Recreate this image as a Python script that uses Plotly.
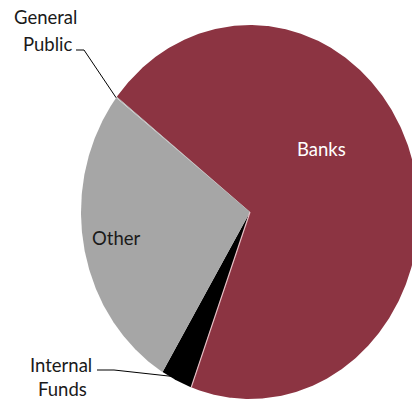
import numpy as np
import plotly.graph_objects as go

# Funding sources (share, %), drawn clockwise from the start angle
labels = ["Banks", "Internal Funds", "Other", "General Public"]
shares = [70.1, 3.0, 26.8, 0.1]
colors = ["#8C3442", "#000000", "#A6A6A6", "#A6A6A6"]

W, H = 412, 400
CX, CY = 250, 212          # pie centre in pixels
RX, RY = 169, 187          # horizontal / vertical radius in pixels
START_DEG = 142.0          # angle where the first slice begins

# axes: one data unit = one radius in each direction
x_range = [-CX / RX, (W - CX) / RX]
y_range = [-(H - CY) / RY, CY / RY]


def px_to_data(px, py):
    return (px - CX) / RX, (CY - py) / RY


fig = go.Figure()

total = sum(shares)
bounds = [START_DEG]
for s in shares:
    bounds.append(bounds[-1] - 360.0 * s / total)

for lab, col, a0, a1 in zip(labels, colors, bounds[:-1], bounds[1:]):
    n = max(4, int(abs(a1 - a0) * 2))
    t = np.radians(np.linspace(a0, a1, n))
    xs = np.concatenate([[0], np.cos(t), [0]])
    ys = np.concatenate([[0], np.sin(t), [0]])
    fig.add_trace(go.Scatter(x=xs, y=ys, mode="lines", fill="toself",
                             fillcolor=col, line=dict(width=0, color=col),
                             hoverinfo="skip", showlegend=False, name=lab))

# light separator between Banks and Internal Funds
sep = np.radians(bounds[1])
fig.add_trace(go.Scatter(x=[0, np.cos(sep)], y=[0, np.sin(sep)], mode="lines",
                         line=dict(color="#E6BFC5", width=1.2),
                         hoverinfo="skip", showlegend=False))


def edge_point(deg):
    r = np.radians(deg)
    return np.cos(r), np.sin(r)


# leader lines for the small slices
gp_x, gp_y = edge_point(bounds[3])
p1 = px_to_data(76, 50)
p2 = px_to_data(84, 50)
fig.add_trace(go.Scatter(x=[p1[0], p2[0], gp_x], y=[p1[1], p2[1], gp_y],
                         mode="lines", line=dict(color="#000000", width=1),
                         hoverinfo="skip", showlegend=False))

mid_if = (bounds[1] + bounds[2]) / 2
if_x, if_y = edge_point(mid_if)
q1 = px_to_data(97, 370)
q2 = px_to_data(114, 370)
fig.add_trace(go.Scatter(x=[q1[0], q2[0], if_x * 0.98], y=[q1[1], q2[1], if_y * 0.98],
                         mode="lines", line=dict(color="#000000", width=1),
                         hoverinfo="skip", showlegend=False))

FONT = "Lato"
SIZE = 18.5
text_items = [
    ("General", 45.5, 17, "#1A1A1A"),
    ("Public", 47.5, 44, "#1A1A1A"),
    ("Internal", 61, 365, "#1A1A1A"),
    ("Funds", 62, 389, "#1A1A1A"),
    ("Other", 115.5, 238, "#1A1A1A"),
    ("Banks", 321, 149, "#FFFFFF"),
]
for txt, px, py, col in text_items:
    x, y = px_to_data(px, py)
    fig.add_annotation(x=x, y=y, text=txt, showarrow=False, xanchor="center",
                       yanchor="middle", align="center", borderpad=0,
                       font=dict(family=FONT, size=SIZE, color=col))

fig.update_xaxes(range=x_range, visible=False, fixedrange=True)
fig.update_yaxes(range=y_range, visible=False, fixedrange=True)
fig.update_layout(width=W, height=H, margin=dict(l=0, r=0, t=0, b=0),
                  paper_bgcolor="#FFFFFF", plot_bgcolor="#FFFFFF")

fig.write_html("out.html")
